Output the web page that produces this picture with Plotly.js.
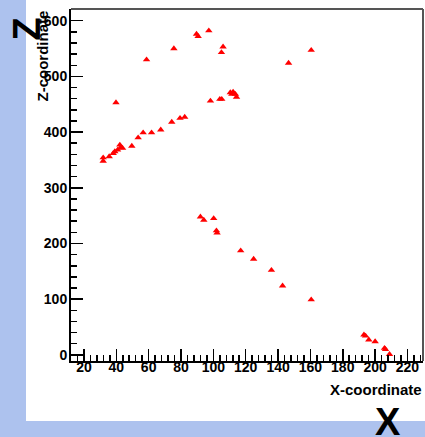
<!DOCTYPE html>
<html>
<head>
<meta charset="utf-8">
<script src="https://cdn.plot.ly/plotly-3.0.1.min.js"></script>
<style>html,body{margin:0;padding:0;background:#adc2ee;}#chart{width:425px;height:437px;}</style>
</head>
<body>
<div id="chart"></div>
<script>
// X and Z coordinates of the hits
var xCoord = [
  89.6, 90.6, 97.2, 75.6, 58.7, 106.0, 105.0, 160.5, 146.5, 39.8,
  98.2, 104.0, 105.2, 110.5, 112.2, 111.4, 113.6, 114.3,
  31.9, 31.9, 35.6, 38.1, 39.1, 40.8, 42.2, 42.6, 43.9, 49.6, 53.5, 56.6, 61.8, 67.5, 74.3, 79.4, 82.3,
  92.0, 94.1, 100.2, 101.9, 102.3, 116.9, 124.9, 135.9, 142.8, 160.5,
  193.1, 194.1, 196.1, 200.0, 205.8, 206.4, 208.9
];
var zCoord = [
  576, 572, 582, 550, 530, 553, 543, 547, 524, 453,
  456, 459, 459, 471, 472, 468, 468, 463,
  354, 348, 356, 362, 365, 368, 377, 372, 371, 375, 390, 399, 399, 404, 418, 425, 427,
  248, 242, 245, 223, 219, 187, 172, 152, 124, 99,
  36, 34, 27, 24, 12, 10, 1
];
var xTicks = [20, 40, 60, 80, 100, 120, 140, 160, 180, 200, 220];
var zTicks = [0, 100, 200, 300, 400, 500, 600];

var L = 71, R = 2, T = 9, B = 76, W = 425, H = 437;
var pw = W - L - R, ph = H - T - B;
function px2x(p){ return (p - L) / pw; }
function py2y(p){ return (H - B - p) / ph; }

var tickFont = {family: 'Liberation Sans, Arial, sans-serif', size: 14, color: '#000', weight: 'bold'};

var trace = {
  x: xCoord, y: zCoord, type: 'scatter', mode: 'markers',
  marker: {symbol: 'triangle-up', size: 6.5, color: '#ff0000'},
  hoverinfo: 'none'
};

var layout = {
  width: W, height: H,
  margin: {l: L, r: R, t: T, b: B, pad: 0},
  paper_bgcolor: '#adc2ee',
  plot_bgcolor: 'rgba(0,0,0,0)',
  showlegend: false,
  xaxis: {
    range: [12, 229.6], tickvals: xTicks, ticktext: xTicks.map(String),
    ticks: 'inside', ticklen: 12, tickwidth: 1.5, tickcolor: '#000',
    minor: {dtick: 4, tick0: 0, ticks: 'inside', ticklen: 6, tickwidth: 1.5, tickcolor: '#000', showgrid: false},
    showline: true, linecolor: '#000', linewidth: 2,
    showgrid: false, zeroline: false, tickfont: tickFont, ticklabelstandoff: -8
  },
  yaxis: {
    range: [-11, 621], tickvals: zTicks, ticktext: zTicks.map(String),
    ticks: 'inside', ticklen: 12, tickwidth: 1.5, tickcolor: '#000',
    minor: {dtick: 20, tick0: 0, ticks: 'inside', ticklen: 6, tickwidth: 1.5, tickcolor: '#000', showgrid: false},
    showline: true, linecolor: '#000', linewidth: 2,
    showgrid: false, zeroline: false, tickfont: tickFont, ticklabelstandoff: -1
  },
  shapes: [
    {type: 'rect', xref: 'paper', yref: 'paper', layer: 'below',
     x0: px2x(26), x1: px2x(425), y0: py2y(421), y1: py2y(0),
     fillcolor: '#ffffff', line: {width: 0}},
    {type: 'line', xref: 'paper', yref: 'paper', layer: 'above',
     x0: 0, x1: 1, y0: 1, y1: 1, line: {color: '#555', width: 2}},
    {type: 'line', xref: 'paper', yref: 'paper', layer: 'above',
     x0: 1, x1: 1, y0: 0, y1: 1, line: {color: '#555', width: 2}}
  ],
  annotations: [
    {text: 'Z-coordinate', xref: 'paper', yref: 'paper', x: px2x(42), y: py2y(9),
     xanchor: 'center', yanchor: 'top', textangle: -90, showarrow: false,
     font: {family: 'Liberation Sans, Arial, sans-serif', size: 15, color: '#000', weight: 'bold'}},
    {text: 'X-coordinate', xref: 'paper', yref: 'paper', x: px2x(424), y: py2y(389),
     xanchor: 'right', yanchor: 'middle', showarrow: false,
     font: {family: 'Liberation Sans, Arial, sans-serif', size: 15, color: '#000', weight: 'bold'}},
    {text: 'Z', xref: 'paper', yref: 'paper', x: px2x(27), y: py2y(29.5),
     xanchor: 'center', yanchor: 'middle', textangle: -90, showarrow: false,
     font: {family: 'Liberation Sans, Arial, sans-serif', size: 38, color: '#000', weight: 'bold'}},
    {text: 'X', xref: 'paper', yref: 'paper', x: px2x(388), y: py2y(422),
     xanchor: 'center', yanchor: 'middle', showarrow: false,
     font: {family: 'Liberation Sans, Arial, sans-serif', size: 38, color: '#000', weight: 'bold'}}
  ]
};

Plotly.newPlot('chart', [trace], layout, {staticPlot: true, displayModeBar: false});
</script>
</body>
</html>
